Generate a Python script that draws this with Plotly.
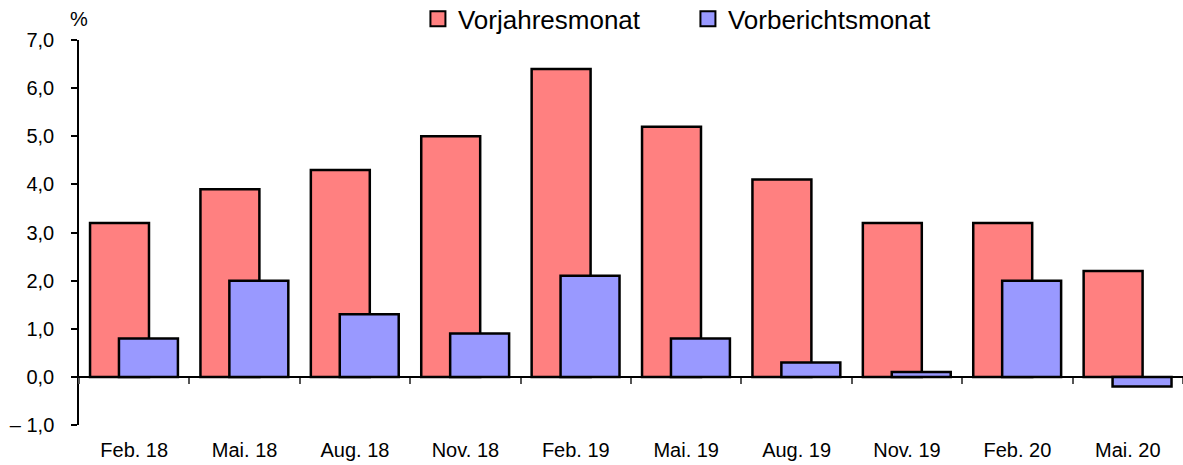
import plotly.graph_objects as go

categories = ["Feb. 18", "Mai. 18", "Aug. 18", "Nov. 18", "Feb. 19",
              "Mai. 19", "Aug. 19", "Nov. 19", "Feb. 20", "Mai. 20"]
vorjahresmonat = [3.2, 3.9, 4.3, 5.0, 6.4, 5.2, 4.1, 3.2, 3.2, 2.2]
vorberichtsmonat = [0.8, 2.0, 1.3, 0.9, 2.1, 0.8, 0.3, 0.1, 2.0, -0.2]
y_tickvals = [-1, 0, 1, 2, 3, 4, 5, 6, 7]
y_ticktext = ["– 1,0", "0,0", "1,0", "2,0", "3,0", "4,0", "5,0", "6,0", "7,0"]

RED = "#FF8080"
BLUE = "#9999FF"
FONT = "Liberation Sans, Arial, sans-serif"

fig = go.Figure()
fig.add_trace(go.Bar(x=categories, y=vorjahresmonat, name="Vorjahresmonat",
                     marker=dict(color=RED, line=dict(color="black", width=2.5)),
                     offset=-0.4, width=0.534, showlegend=False, xaxis="x"))
fig.add_trace(go.Bar(x=categories, y=vorberichtsmonat, name="Vorberichtsmonat",
                     marker=dict(color=BLUE, line=dict(color="black", width=2.5)),
                     offset=-0.138, width=0.534, showlegend=False, xaxis="x"))
# legend entries
fig.add_trace(go.Scatter(x=[categories[0]], y=[None], mode="markers", name="Vorjahresmonat",
                         marker=dict(symbol="square", size=15, color=RED,
                                     line=dict(color="black", width=2))))
fig.add_trace(go.Scatter(x=[categories[0]], y=[None], mode="markers", name="Vorberichtsmonat",
                         marker=dict(symbol="square", size=15, color=BLUE,
                                     line=dict(color="black", width=2))))
# axis carrying the labels at the bottom
fig.add_trace(go.Scatter(x=categories, y=[None] * len(categories), xaxis="x2",
                         showlegend=False, hoverinfo="skip"))

fig.update_layout(
    width=1183, height=465,
    margin=dict(l=79, r=0, t=40, b=40, autoexpand=False),
    paper_bgcolor="white", plot_bgcolor="white",
    font=dict(family=FONT, size=20, color="black"),
    barmode="overlay",
    xaxis=dict(type="category", categoryorder="array", categoryarray=categories,
               anchor="free", position=0.125, showline=True, linecolor="black",
               linewidth=1.5, ticks="outside", tickson="boundaries", ticklen=6,
               tickcolor="#555555", tickwidth=1.5, showticklabels=False,
               showgrid=False, zeroline=False, range=[-0.5, 9.5], automargin=False),
    xaxis2=dict(type="category", categoryorder="array", categoryarray=categories,
                overlaying="x", anchor="y", side="bottom", showline=False,
                ticks="", showgrid=False, zeroline=False, range=[-0.5, 9.5],
                tickfont=dict(size=20), ticklabelstandoff=11, automargin=False),
    yaxis=dict(range=[-1, 7], tickvals=y_tickvals, ticktext=y_ticktext,
               showline=True, linecolor="black", linewidth=1.5, ticks="outside",
               ticklen=6, tickcolor="black", tickwidth=1.5, showgrid=False,
               zeroline=False, tickfont=dict(size=20), ticklabelstandoff=13,
               automargin=False),
    legend=dict(orientation="h", x=0.307, xanchor="left", y=1.055, yanchor="middle",
                font=dict(size=26), entrywidth=225, tracegroupgap=0,
                bgcolor="rgba(0,0,0,0)"),
    annotations=[dict(text="%", xref="paper", yref="paper", x=0.0, y=1.0,
                      xanchor="center", yanchor="bottom", yshift=8, showarrow=False,
                      font=dict(size=20))],
)

fig.write_html("out.html", config={"displayModeBar": False},
               post_script="document.body.style.margin='0px';")
